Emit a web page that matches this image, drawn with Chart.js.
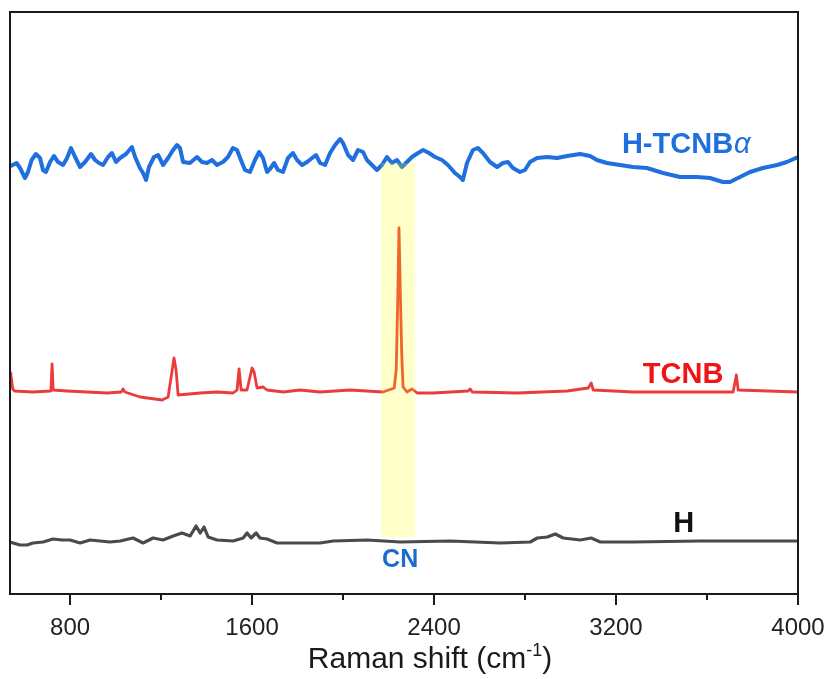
<!DOCTYPE html>
<html>
<head>
<meta charset="utf-8">
<script src="https://cdn.jsdelivr.net/npm/chart.js@4.4.1/dist/chart.umd.min.js"></script>
<style>
html,body{margin:0;padding:0;background:#fff;}
#wrap{width:829px;height:679px;}
</style>
</head>
<body>
<div id="wrap"><canvas id="c" width="829" height="679"></canvas></div>
<script>
// Raman shift (cm-1) and offset intensity (a.u.)
const blueX = [536,548,565,580,602,615,631,650,668,681,694,712,729,747,769,787,804,822,844,866,892,910,927,945,967,984,1002,1020,1046,1072,1086,1107,1121,1134,1147,1169,1187,1209,1231,1253,1270,1283,1297,1327,1358,1380,1402,1424,1446,1472,1494,1516,1534,1551,1569,1591,1613,1631,1648,1666,1679,1697,1714,1736,1758,1780,1798,1820,1842,1864,1881,1899,1921,1943,1965,1987,2000,2022,2044,2066,2088,2105,2127,2149,2171,2193,2215,2237,2259,2281,2303,2330,2352,2378,2404,2435,2461,2492,2514,2527,2545,2571,2593,2615,2646,2677,2703,2725,2747,2778,2800,2822,2853,2897,2941,2985,3042,3086,3116,3160,3217,3275,3336,3407,3481,3556,3613,3670,3701,3745,3789,3846,3908,3951,4000];
const blueY = [428,429,431,426,416,422,434,440,436,424,422,432,438,432,429,436,446,437,427,432,440,434,431,429,437,441,432,436,440,447,437,426,421,414,427,437,439,429,436,444,449,446,432,431,437,432,431,434,429,432,437,446,444,434,424,422,434,442,436,422,425,431,424,422,436,441,434,429,432,436,439,431,429,441,449,455,451,439,434,444,442,434,429,424,429,437,431,434,427,432,437,441,444,441,437,434,429,421,417,414,431,444,446,441,432,427,431,432,426,422,424,432,436,437,436,438,440,438,434,431,429,427,426,421,417,417,416,412,412,417,422,426,429,432,437];

const redX = [536,540,548,556,637,712,716,721,726,787,875,963,1025,1033,1041,1108,1205,1231,1249,1257,1266,1275,1372,1446,1517,1534,1543,1552,1578,1600,1609,1622,1649,1666,1737,1811,1899,2031,2176,2225,2234,2240,2246,2252,2258,2264,2281,2303,2326,2396,2550,2559,2568,2766,2986,3078,3091,3100,3276,3715,3729,3737,4000];
const redY = [221,219,205,203,202,203,205,230,204,203,202,201,202,205,202,197,194,197,224,236,224,199,201,202,201,204,225,204,204,226,222,206,207,204,202,204,202,204,202,206,225,290,366,300,240,207,202,205,201,201,203,205,202,201,203,206,211,204,202,202,219,204,202];

const greyX = [536,580,611,637,681,725,765,800,844,888,932,976,1020,1077,1121,1165,1209,1253,1292,1328,1354,1372,1389,1407,1446,1517,1561,1578,1596,1618,1635,1666,1710,1811,1899,1957,2106,2251,2471,2691,2823,2854,2898,2933,2968,3043,3091,3131,3276,3570,3865,4000];
const greyY = [52,49,49,51,52,55,54,54,51,54,53,52,53,56,51,56,54,58,61,58,68,61,67,57,54,53,56,61,56,61,56,55,51,51,51,53,54,52,53,51,52,56,57,60,56,54,56,52,52,53,53,53];

const majorTicks = [800,1600,2400,3200,4000];
const minorTicks = [1200,2000,2800,3600];
const xRange = [536,4000];
const yRange = [0,582];
const cnBandX = [2167,2316];
const cnBandY = [57,431];
const seriesNames = ['H-TCNB\u03B1','TCNB','H'];

const toPts = (xs, ys) => xs.map((x, i) => ({x: x, y: ys[i]}));

const FONT = '"Liberation Sans", Arial, sans-serif';

const decor = {
  id: 'decor',
  afterDatasetsDraw(chart) {
    const {ctx, chartArea: a, scales: {x, y}} = chart;
    ctx.save();
    // CN band (drawn over the lines, translucent)
    const bx0 = x.getPixelForValue(cnBandX[0]), bx1 = x.getPixelForValue(cnBandX[1]);
    const by0 = y.getPixelForValue(cnBandY[1]), by1 = y.getPixelForValue(cnBandY[0]);
    ctx.fillStyle = 'rgba(255,255,0,0.21)';
    ctx.fillRect(bx0, by0, bx1 - bx0, by1 - by0);

    // series labels
    ctx.textBaseline = 'alphabetic';
    ctx.font = 'bold 29px ' + FONT;
    ctx.fillStyle = '#1f6fde';
    ctx.textAlign = 'left';
    const hx = x.getPixelForValue(3226), hy = y.getPixelForValue(441);
    ctx.fillText('H-TCNB', hx, hy);
    const w1 = ctx.measureText('H-TCNB').width;
    ctx.font = 'italic 29px ' + FONT;
    ctx.fillText('\u03B1', hx + w1 + 1, hy);

    ctx.font = 'bold 29px ' + FONT;
    ctx.fillStyle = '#f21414';
    ctx.fillText(seriesNames[1], x.getPixelForValue(3318), y.getPixelForValue(211));

    ctx.fillStyle = '#111';
    ctx.textAlign = 'center';
    ctx.fillText(seriesNames[2], x.getPixelForValue(3498), y.getPixelForValue(62));

    ctx.font = 'bold 25px ' + FONT;
    ctx.fillStyle = '#1a6ec8';
    ctx.fillText('CN', x.getPixelForValue(2251), y.getPixelForValue(27));

    // frame
    ctx.strokeStyle = '#1a1a1a';
    ctx.lineWidth = 2;
    ctx.strokeRect(a.left, a.top, a.right - a.left, a.bottom - a.top);

    // ticks
    ctx.lineWidth = 2;
    ctx.beginPath();
    majorTicks.forEach(v => { const p = Math.round(x.getPixelForValue(v)); ctx.moveTo(p, a.bottom); ctx.lineTo(p, a.bottom + 11); });
    minorTicks.forEach(v => { const p = Math.round(x.getPixelForValue(v)); ctx.moveTo(p, a.bottom); ctx.lineTo(p, a.bottom + 6); });
    ctx.stroke();

    // axis title with superscript
    const cx = 430, base = 668;
    ctx.fillStyle = '#1a1a1a';
    ctx.textAlign = 'left';
    const t1 = 'Raman shift (cm', t3 = ')';
    ctx.font = '18px ' + FONT;
    const w2 = ctx.measureText('-1').width;
    ctx.font = '30px ' + FONT;
    const wa = ctx.measureText(t1).width, wc = ctx.measureText(t3).width;
    const total = wa + w2 + wc;
    let sx = cx - total / 2;
    ctx.fillText(t1, sx, base);
    ctx.font = '18px ' + FONT;
    ctx.fillText('-1', sx + wa, base - 12);
    ctx.font = '30px ' + FONT;
    ctx.fillText(t3, sx + wa + w2, base);
    ctx.restore();
  }
};

new Chart(document.getElementById('c'), {
  type: 'line',
  data: {
    datasets: [
      {label: seriesNames[0], data: toPts(blueX, blueY), borderColor: '#1f6fde', borderWidth: 4},
      {label: seriesNames[1], data: toPts(redX, redY), borderColor: '#ec3b3b', borderWidth: 2.8},
      {label: seriesNames[2], data: toPts(greyX, greyY), borderColor: '#4a4a4a', borderWidth: 3.2}
    ]
  },
  options: {
    responsive: false,
    animation: false,
    events: [],
    elements: {point: {radius: 0}, line: {tension: 0, borderJoinStyle: 'round', borderCapStyle: 'round'}},
    layout: {padding: {left: 10, right: 31, top: 12, bottom: 0}},
    plugins: {legend: {display: false}, tooltip: {enabled: false}, title: {display: false}},
    scales: {
      x: {
        type: 'linear',
        min: xRange[0], max: xRange[1],
        grid: {display: false, drawTicks: false},
        border: {display: false},
        afterBuildTicks: s => { s.ticks = majorTicks.map(v => ({value: v})); },
        afterFit: s => { s.height = 85; s.paddingLeft = 0; s.paddingRight = 0; },
        ticks: {
          autoSkip: false, maxRotation: 0, padding: 20,
          color: '#222',
          font: {family: FONT, size: 24},
          callback: v => String(v)
        }
      },
      y: {
        type: 'linear', display: false,
        min: yRange[0], max: yRange[1]
      }
    }
  },
  plugins: [decor]
});
</script>
</body>
</html>
